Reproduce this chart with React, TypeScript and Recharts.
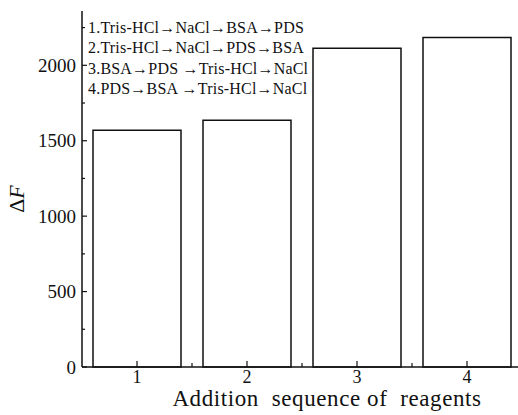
import { Bar, BarChart, Legend, XAxis, YAxis } from 'recharts';

// ΔF for each addition order of the reagents
const sequences = [1, 2, 3, 4];
const deltaF = [1569, 1635, 2113, 2184];

const yTicks = [0, 250, 500, 750, 1000, 1250, 1500, 1750, 2000, 2250];
const xTicks = [1, 1.5, 2, 2.5, 3, 3.5, 4];

const legendLines = [
  '1.Tris-HCl→NaCl→BSA→PDS',
  '2.Tris-HCl→NaCl→PDS→BSA',
  '3.BSA→PDS →Tris-HCl→NaCl',
  '4.PDS→BSA →Tris-HCl→NaCl',
];

const data = sequences.map((s, i) => ({ seq: s, value: deltaF[i] }));

const FONT = '"Liberation Serif", "Times New Roman", serif';
const INK = '#111';

// left axis: majors every 500 with labels, minors between, ticks pointing inward
function YTick(props: any) {
  const { x, y, payload } = props;
  const major = payload.value % 500 === 0;
  return (
    <g>
      <line x1={x} x2={x + (major ? 5 : 3)} y1={y} y2={y} stroke={INK} strokeWidth={1.2} />
      {major && (
        <text x={x - 6} y={y} dy="0.35em" textAnchor="end" fontSize={19} fontFamily={FONT} fill={INK}>
          {payload.value}
        </text>
      )}
    </g>
  );
}

function XTick(props: any) {
  const { x, y, payload } = props;
  const major = Number.isInteger(payload.value);
  return (
    <g>
      <line x1={x} x2={x} y1={y} y2={y - (major ? 6 : 4)} stroke={INK} strokeWidth={1.2} />
      {major && (
        <text x={x} y={y + 10} dy="0.35em" textAnchor="middle" fontSize={18} fontFamily={FONT} fill={INK}>
          {payload.value}
        </text>
      )}
    </g>
  );
}

function YTitle() {
  const cx = 16;
  const cy = 199;
  return (
    <text
      x={cx}
      y={cy}
      transform={`rotate(-90 ${cx} ${cy})`}
      textAnchor="middle"
      dy="0.35em"
      fontSize={22}
      fontFamily={FONT}
      fill={INK}
    >
      Δ<tspan fontStyle="italic">F</tspan>
    </text>
  );
}

function SequenceLegend() {
  return (
    <div style={{ fontFamily: FONT, fontSize: 16, letterSpacing: 0.2, color: INK, lineHeight: '20.4px', textAlign: 'left' }}>
      {legendLines.map((l) => (
        <div key={l} style={{ whiteSpace: 'pre' }}>{l}</div>
      ))}
    </div>
  );
}

export default function App() {
  return (
    <div style={{ position: 'absolute', left: 0, top: 0, width: 518, height: 415, overflow: 'hidden', background: '#fff' }}>
      <BarChart width={530} height={415} data={data} margin={{ top: 11, right: 8, bottom: 0, left: 0 }}>
        <XAxis
          dataKey="seq"
          type="number"
          domain={[0.5, 4.5]}
          ticks={xTicks}
          height={48}
          axisLine={{ stroke: INK, strokeWidth: 1.5 }}
          tickLine={false}
          tickSize={0}
          tickMargin={0}
          tick={<XTick />}
          label={{
            value: 'Addition\u00a0 sequence of\u00a0 reagents',
            position: 'insideBottom',
            offset: 9,
            dx: 25,
            style: { fontFamily: FONT, fontSize: 23, fill: INK, letterSpacing: 0.6 },
          }}
        />
        <XAxis xAxisId="top" orientation="top" type="number" domain={[0.5, 4.5]} height={0} tick={false} tickLine={false} axisLine={{ stroke: INK, strokeWidth: 1.5 }} />
        <YAxis
          domain={[0, 2360]}
          ticks={yTicks}
          width={82}
          axisLine={{ stroke: INK, strokeWidth: 1.5 }}
          tickLine={false}
          tickSize={0}
          tickMargin={0}
          tick={<YTick />}
          label={<YTitle />}
        />
        <YAxis yAxisId="right" orientation="right" domain={[0, 2360]} width={0} tick={false} tickLine={false} axisLine={{ stroke: INK, strokeWidth: 1.5 }} />
        <Legend
          content={<SequenceLegend />}
          layout="horizontal"
          verticalAlign="middle"
          align="center"
          wrapperStyle={{ top: 18, left: 88, width: 'auto' }}
        />
        <Bar dataKey="value" barSize={88} fill="#fff" stroke={INK} strokeWidth={1.5} isAnimationActive={false} />
      </BarChart>
    </div>
  );
}
